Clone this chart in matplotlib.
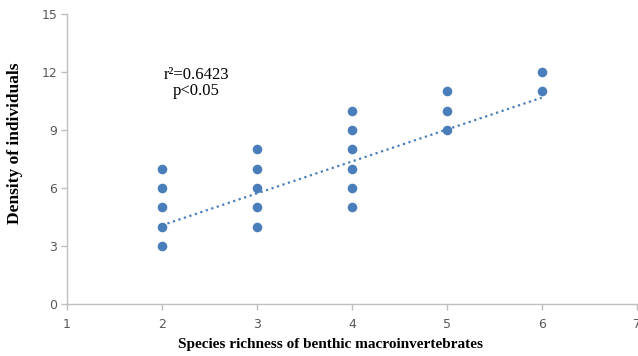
import matplotlib

matplotlib.use("Agg")
import matplotlib.pyplot as plt
import numpy as np

# species richness (x) and density of individuals (y)
richness = [2, 2, 2, 2, 2,
            3, 3, 3, 3, 3,
            4, 4, 4, 4, 4, 4,
            5, 5, 5,
            6, 6]
density = [3, 4, 5, 6, 7,
           4, 5, 6, 7, 8,
           5, 6, 7, 8, 9, 10,
           9, 10, 11,
           11, 12]

# linear trend as shown in the chart
trend_slope = 1.65
trend_intercept = 0.77

x_ticks = [1, 2, 3, 4, 5, 6, 7]
y_ticks = [0, 3, 6, 9, 12, 15]

blue = "#4A7EBB"
grey = "#BFBFBF"

fig = plt.figure(figsize=(6.38, 3.56), dpi=100)
ax = fig.add_axes([0.105, 0.146, 0.893, 0.815])

ax.scatter(richness, density, s=48, color=blue, zorder=3, linewidths=0)

tx = np.array([min(richness), max(richness)])
ax.plot(tx, trend_slope * tx + trend_intercept, linestyle=(0, (1, 1.6)),
        color=blue, linewidth=1.6, zorder=2)

ax.set_xlim(1, 7)
ax.set_ylim(0, 15)
ax.set_xticks(x_ticks)
ax.set_yticks(y_ticks)

for side in ("top", "right"):
    ax.spines[side].set_visible(False)
for side in ("left", "bottom"):
    ax.spines[side].set_color(grey)
    ax.spines[side].set_linewidth(1.0)

ax.tick_params(axis="both", colors=grey, length=4, width=1.0, direction="out",
               labelsize=9, labelcolor="#595959", pad=3)
ax.tick_params(axis="x", pad=6)

serif = ["Liberation Serif", "DejaVu Serif"]
ax.set_xlabel("Species richness of benthic macroinvertebrates", fontsize=11,
              fontweight="bold", family=serif)
ax.xaxis.set_label_coords(0.463, -0.118)
ax.set_ylabel("Density of individuals", fontsize=12.5, fontweight="bold",
              family=serif)
ax.yaxis.set_label_coords(-0.077, 0.555)

ax.text(2.36, 11.45, "r²=0.6423\np<0.05", ha="center", va="center",
        fontsize=12, family=serif, linespacing=1.0)

fig.savefig("out.png", dpi=100)
